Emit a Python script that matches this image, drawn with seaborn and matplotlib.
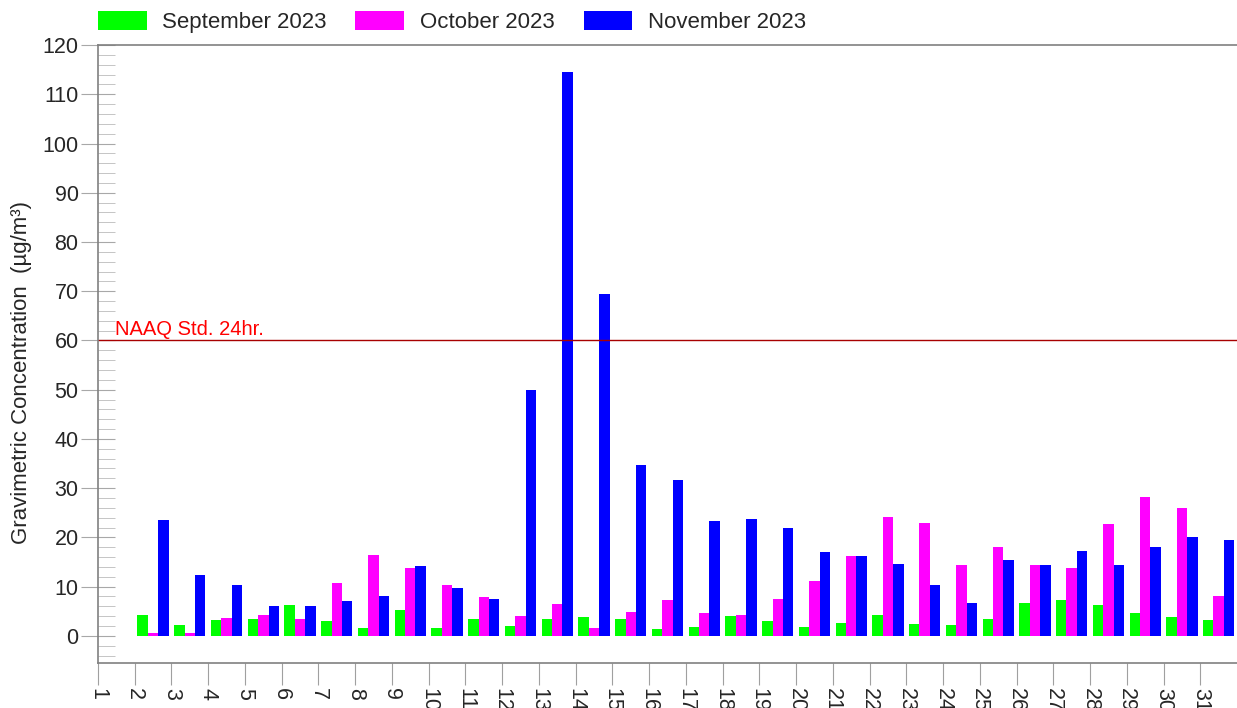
import numpy as np
import pandas as pd
import matplotlib.pyplot as plt
import seaborn as sns
from matplotlib.ticker import MultipleLocator

# Data (days 2..31)
days = list(range(2, 32))
months = ["September 2023", "October 2023", "November 2023"]
sep_2023 = [4.3, 2.2, 3.3, 3.4, 6.3, 3.0, 1.7, 5.2, 1.7, 3.4,
            2.1, 3.4, 3.8, 3.4, 1.4, 1.8, 4.1, 3.0, 1.8, 2.6,
            4.3, 2.5, 2.3, 3.4, 6.7, 7.3, 6.3, 4.7, 3.9, 3.3]
oct_2023 = [0.5, 0.6, 3.6, 4.3, 3.4, 10.8, 16.5, 13.8, 10.4, 7.9,
            4.1, 6.5, 1.7, 4.9, 7.2, 4.6, 4.3, 7.4, 11.2, 16.2,
            24.2, 23.0, 14.4, 18.1, 14.3, 13.7, 22.8, 28.3, 26.0, 8.2]
nov_2023 = [23.5, 12.4, 10.4, 6.1, 6.1, 7.1, 8.1, 14.2, 9.7, 7.5,
            50.0, 114.6, 69.5, 34.8, 31.7, 23.4, 23.8, 22.0, 17.1, 16.2,
            14.6, 10.4, 6.7, 15.5, 14.4, 17.2, 14.3, 18.1, 20.1, 19.4]
tick_days = list(range(1, 32))
naaq_std = 60

df = pd.DataFrame({
    "day": days * 3,
    "month": np.repeat(months, len(days)),
    "value": sep_2023 + oct_2023 + nov_2023,
})
# bars sit between day ticks
df["pos"] = df["day"] + 0.5

sns.set_style("white")
plt.rcParams["font.family"] = ["Liberation Sans", "DejaVu Sans"]

fig = plt.figure(figsize=(12.37, 7.08), dpi=100)
ax = fig.add_axes([0.0792, 0.0636, 0.9208, 0.8728])

sns.barplot(
    data=df, x="pos", y="value", hue="month", hue_order=months,
    palette=["#00ff00", "#ff00ff", "#0000ff"], native_scale=True,
    width=0.85, saturation=1, linewidth=0, ax=ax,
)

# Standard line
ax.axhline(naaq_std, color="#a80000", linewidth=1, zorder=1)
ax.text(1.45, naaq_std + 1.2, "NAAQ Std. 24hr.", color="#ff0000", fontsize=14.5)

ax.set_xlim(1, 32)
ax.set_ylim(-5.5, 120)
ax.set_xticks(tick_days)
ax.set_xticklabels([str(d) for d in tick_days], rotation=270, fontsize=15.5)
ax.yaxis.set_major_locator(MultipleLocator(10))
ax.yaxis.set_minor_locator(MultipleLocator(2))
ax.tick_params(axis="y", which="major", direction="inout", length=24,
               color="#a8a8a8", labelsize=15.5, pad=2, left=True)
ax.tick_params(axis="y", which="minor", direction="in", length=12,
               color="#bcbcbc", left=True)
ax.tick_params(axis="x", direction="out", length=16, color="#a0a0a0",
               labelsize=15.5, pad=2, bottom=True)

for side in ["left", "bottom", "top"]:
    ax.spines[side].set_color("#808080")
    ax.spines[side].set_linewidth(1.2)
ax.spines["right"].set_visible(False)

ax.set_xlabel("")
ax.set_ylabel("Gravimetric Concentration  (µg/m³)", fontsize=16)
ax.yaxis.set_label_coords(-0.058, 0.47)

ax.legend(loc="lower left", bbox_to_anchor=(-0.011, 1.0), ncol=3, frameon=False,
          fontsize=16, handlelength=2.2, handleheight=0.95, handletextpad=0.7,
          columnspacing=1.3, borderaxespad=0.55, borderpad=0.0)

fig.savefig("out.png", dpi=100)
